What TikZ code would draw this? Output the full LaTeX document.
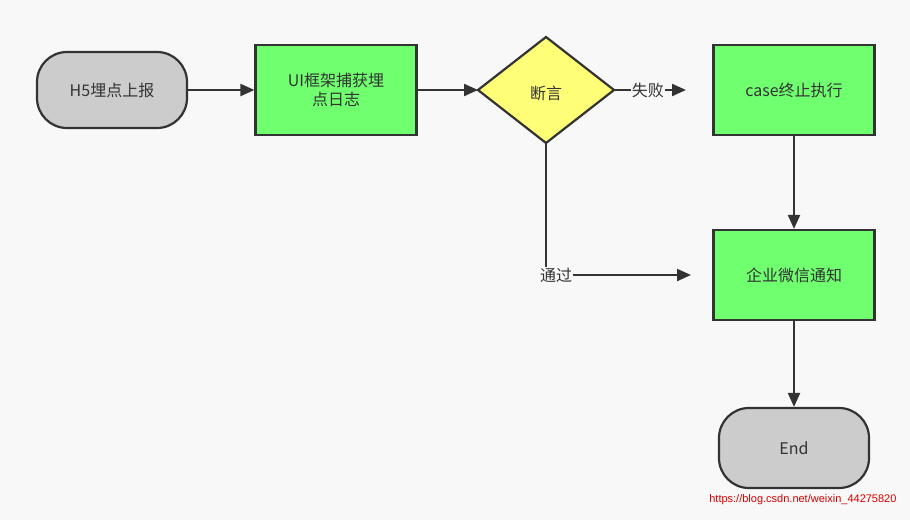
\documentclass[tikz,border=0pt]{standalone}
\usepackage{fontspec}
\setmainfont{Liberation Sans}
\newfontfamily\cjk{Noto Sans CJK SC}
\usetikzlibrary{shapes.geometric,arrows.meta}
\definecolor{bg}{HTML}{F8F8F8}
\definecolor{gr}{HTML}{6FFF6F}
\definecolor{yl}{HTML}{FFFF77}
\definecolor{gy}{HTML}{CCCCCC}
\definecolor{ln}{HTML}{333333}
\begin{document}
\begin{tikzpicture}[x=1pt,y=-1pt,
  base/.style={draw=ln,line width=2.2pt,font=\cjk\fontsize{16}{19}\selectfont,text=ln,align=center,inner sep=0pt},
  pill/.style={base,fill=gy,rounded corners=30pt,minimum width=150pt,minimum height=76pt},
  box/.style={base,fill=gr,minimum width=161pt,minimum height=90pt},
  dia/.style={base,fill=yl,diamond,minimum width=136pt,minimum height=106pt,aspect=1.28},
  arr/.style={draw=ln,line width=2.2pt,-{Triangle[length=14pt,width=12pt]}},
  lab/.style={font=\cjk\fontsize{16}{19}\selectfont,text=ln,fill=bg,inner sep=1pt}]
\fill[bg] (0,0) rectangle (910,520);
\useasboundingbox (0,0) rectangle (910,520);
\node[pill] (h5) at (112,90) {H5埋点上报};
\node[box] (ui) at (336,90) {UI框架捕获埋\\点日志};
\node[base,fill=yl,draw=ln] (d) at (546,90) {};
\path[base,fill=yl] (478,90) -- (546,37) -- (614,90) -- (546,143) -- cycle;
\coordinate (dl) at (478,90); \coordinate (dr) at (614,90); \coordinate (db) at (546,143);
\node[font=\cjk\fontsize{16}{19}\selectfont,text=ln] (dt) at (546,93) {断言};
\node[box] (case) at (794,90) {case终止执行};
\node[box] (wx) at (794,275) {企业微信通知};
\node[pill,minimum height=80pt] (end) at (794,448) {End};
\coordinate (f) at (686,90);
\coordinate (p) at (691,275);
\coordinate (pc) at (546,275);
\draw[arr] (h5) -- (ui);
\draw[arr] (ui) -- (dl);
\draw[arr] (dr) -- node[lab,pos=0.47] {失败} (f);
\draw[arr] (db) -- (pc) -- node[lab,pos=0.07] (pl) {通过} (p);
\draw[arr] (case) -- (wx);
\draw[arr] (wx) -- (end);
\node[text=red!85!black,font=\fontsize{11}{13}\selectfont,anchor=east] (wm) at (900,500) {https://blog.csdn.net/weixin\_44275820};
\end{tikzpicture}
\end{document}
